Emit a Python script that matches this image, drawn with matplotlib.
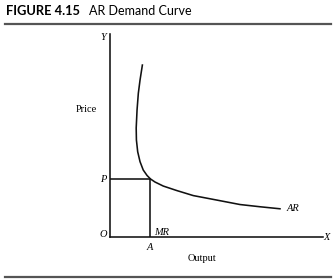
import matplotlib.pyplot as plt
from matplotlib.lines import Line2D

# AR curve (output, price), axes run 0..10
ar_output = [1.52, 1.41, 1.33, 1.27, 1.23, 1.24, 1.30, 1.41, 1.56, 1.74, 1.90,
             2.11, 2.50, 3.13, 3.91, 5.01, 6.10, 7.04, 7.98]
ar_price = [8.47, 7.73, 7.08, 6.26, 5.37, 4.78, 4.20, 3.71, 3.30, 3.03, 2.86,
            2.71, 2.51, 2.29, 2.04, 1.82, 1.60, 1.49, 1.39]
p_level = 2.84
a_output = 1.90

title_bold = "FIGURE 4.15"
title_rest = "AR Demand Curve"

W, H = 334, 279
fig = plt.figure(figsize=(W / 100, H / 100), dpi=100)
fig.patch.set_facecolor("white")

# rules above and below the figure
for y in (24, 277):
    fig.add_artist(Line2D([5 / W, 331 / W], [1 - y / H, 1 - y / H],
                          transform=fig.transFigure, color="#555555", lw=1.6))

fig.text(6 / W, 1 - 11 / H, title_bold, fontsize=9.3, fontweight="bold",
         family="Lato", va="center", ha="left")
fig.text(89 / W, 1 - 11 / H, title_rest, fontsize=9.0,
         family="Lato", va="center", ha="left")

x0, y0, x1, y1 = 110, 237, 323, 34
ax = fig.add_axes([x0 / W, 1 - y0 / H, (x1 - x0) / W, (y0 - y1) / H])
ax.set_xlim(0, 10)
ax.set_ylim(0, 10)
ax.set_facecolor("none")
for s in ("top", "right"):
    ax.spines[s].set_visible(False)
for s in ("left", "bottom"):
    ax.spines[s].set_linewidth(1.15)
    ax.spines[s].set_color("#111111")
ax.set_xticks([])
ax.set_yticks([])

ax.plot(ar_output, ar_price, color="#111111", lw=1.15, solid_joinstyle="round")
ax.plot([0, a_output], [p_level, p_level], color="#111111", lw=1.15)
ax.plot([a_output, a_output], [0, p_level], color="#111111", lw=1.15)

serif = "Liberation Serif"
it = dict(family=serif, style="italic", fontsize=7.5, clip_on=False)
ax.text(-0.33, p_level, "P", ha="center", va="center", **it)
ax.text(-0.33, 0.1, "O", ha="center", va="center", **it)
ax.text(a_output - 0.05, -0.5, "A", ha="center", va="center", **it)
ax.text(2.07, 0.2, "MR", ha="left", va="center", **it)
ax.text(8.31, 1.39, "AR", ha="left", va="center", **it)
ax.text(10.17, 0.0, "X", ha="center", va="center", **it)
ax.text(-0.33, 9.85, "Y", ha="center", va="center", **it)

ax.text(-1.09, 6.29, "Price", family=serif, fontsize=7.5, ha="center", va="center")
ax.text(4.3, -1.05, "Output", family=serif, fontsize=7.5, ha="center", va="center")

fig.savefig("out.png", dpi=100)
